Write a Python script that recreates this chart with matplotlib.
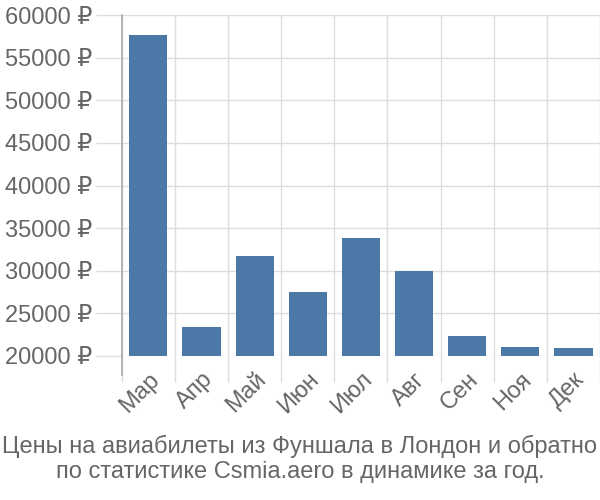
import matplotlib.pyplot as plt
from matplotlib.ticker import FixedLocator

plt.rcParams['font.family'] = ['Liberation Sans', 'DejaVu Sans']

months = ["Мар", "Апр", "Май", "Июн", "Июл", "Авг", "Сен", "Ноя", "Дек"]
prices = [57650, 23400, 31730, 27500, 33840, 29970, 22350, 21050, 20940]
yticks = [20000, 25000, 30000, 35000, 40000, 45000, 50000, 55000, 60000]

grid_c = "#dddddd"
text_c = "#666666"

fig = plt.figure(figsize=(6, 5), dpi=100)
ax = fig.add_axes([0.203, 0.288, 0.797, 0.682])

x = list(range(len(months)))
ax.bar(x, prices, width=0.72, color="#4c78a8", zorder=3)

ax.set_xlim(-0.5, len(months) - 0.5)
ax.set_ylim(20000, 60000)

ax.set_yticks(yticks)
ax.set_yticklabels([f"{v} ₽" for v in yticks])
ax.set_xticks(x)
ax.set_xticklabels(months, rotation=45, ha="right", rotation_mode="anchor")
ax.xaxis.set_minor_locator(FixedLocator([i - 0.5 for i in range(len(months) + 1)]))

ax.tick_params(axis="y", length=19, width=1, color=grid_c, labelsize=17,
               labelcolor=text_c, pad=2)
ax.tick_params(axis="x", which="major", length=0, labelsize=17,
               labelcolor=text_c, pad=9)
ax.tick_params(axis="x", which="minor", length=19, width=1, color=grid_c)

ax.grid(axis="y", color=grid_c, lw=1, zorder=0)
ax.grid(axis="x", which="minor", color=grid_c, lw=1, zorder=0)

for s in ["top", "right", "bottom", "left"]:
    ax.spines[s].set_visible(False)
ax.plot([0, 0], [-0.055, 1], transform=ax.transAxes, color="#aaaaaa",
        lw=1.2, clip_on=False, zorder=4)

fig.text(0.5, 0.082, "Цены на авиабилеты из Фуншала в Лондон и обратно\n"
         "по статистике Csmia.aero в динамике за год.",
         ha="center", va="center", fontsize=17, color=text_c, linespacing=1.2)

fig.savefig("out.png")
